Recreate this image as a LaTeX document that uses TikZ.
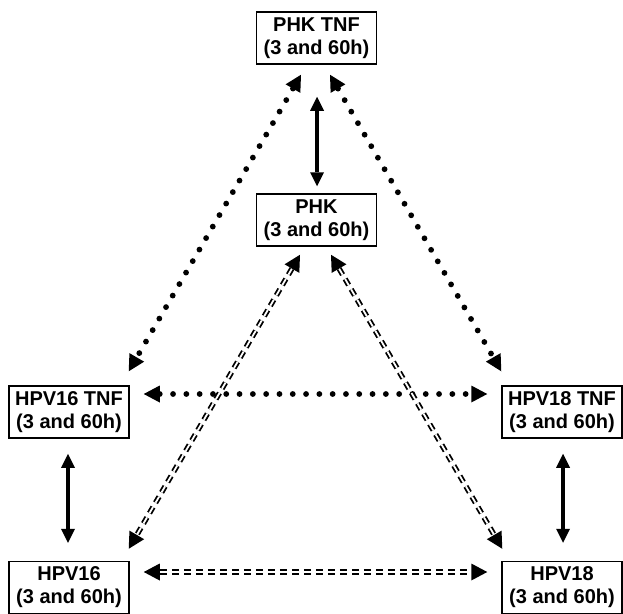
\documentclass[tikz,border=0pt]{standalone}
\usepackage{fontspec}
\setmainfont{Liberation Sans}
\usetikzlibrary{arrows.meta,calc}

\begin{document}
\begin{tikzpicture}[
  x=1pt, y=-1pt,
  font=\fontsize{20}{23}\selectfont\bfseries,
  box/.style={draw, line width=1.5pt, align=center, inner sep=0pt,
              minimum width=120pt, minimum height=52pt},
  solidarr/.style={{Triangle[length=14pt, width=14pt, line width=0pt]}-{Triangle[length=14pt, width=14pt, line width=0pt]}, line width=3.5pt},
  dotarr/.style={{Triangle[length=16pt, width=17pt, line width=0pt]}-{Triangle[length=16pt, width=17pt, line width=0pt]}, line width=5.8pt, line cap=round, dash pattern=on 0pt off 13.3pt},
  dasharr/.style={{Triangle[length=16pt, width=17pt, line width=0pt]}-{Triangle[length=16pt, width=17pt, line width=0pt]}, line width=1.8pt, double, double distance=1.8pt, dash pattern=on 7pt off 5pt}
]
\useasboundingbox (0,0) rectangle (623,613);
\node[box] (phktnf) at (316.5,38) {PHK TNF\\(3 and 60h)};
\node[box] (phk) at (316.5,220) {PHK\\(3 and 60h)};
\node[box] (tnfa) at (69,412) {HPV16 TNF\\(3 and 60h)};
\node[box] (tnfb) at (562,412) {HPV18 TNF\\(3 and 60h)};
\node[box] (hpva) at (69,587.5) {HPV16\\(3 and 60h)};
\node[box] (hpvb) at (562,587.5) {HPV18\\(3 and 60h)};
% solid
\draw[solidarr] ($(phktnf.south)+(0.5,32)$) -- ($(phk.north)+(0.5,-7)$);
\draw[solidarr] ($(tnfa.south)+(-1,15)$) -- ($(hpva.north)+(-1,-18)$);
\draw[solidarr] ($(tnfb.south)+(1,15)$) -- ($(hpvb.north)+(1,-18)$);
% dotted
\draw[dotarr] ($(phktnf.south)+(-15.5,10)$) -- ($(tnfa.north east)+(-1,-14)$);
\draw[dotarr] ($(phktnf.south)+(13.5,10)$) -- ($(tnfb.north west)+(0,-14)$);
\draw[dotarr] ($(tnfa.east)+(14,-18)$) -- ($(tnfb.west)+(-14,-18)$);
% double dashed
\draw[dasharr] ($(phk.south)+(-16.5,8)$) -- ($(hpva.north east)+(-1,-12)$);
\draw[dasharr] ($(phk.south)+(14.5,8)$) -- ($(hpvb.north west)+(1,-12)$);
\draw[dasharr] ($(hpva.east)+(14,-15.5)$) -- ($(hpvb.west)+(-14,-15.5)$);
\end{tikzpicture}
\end{document}
